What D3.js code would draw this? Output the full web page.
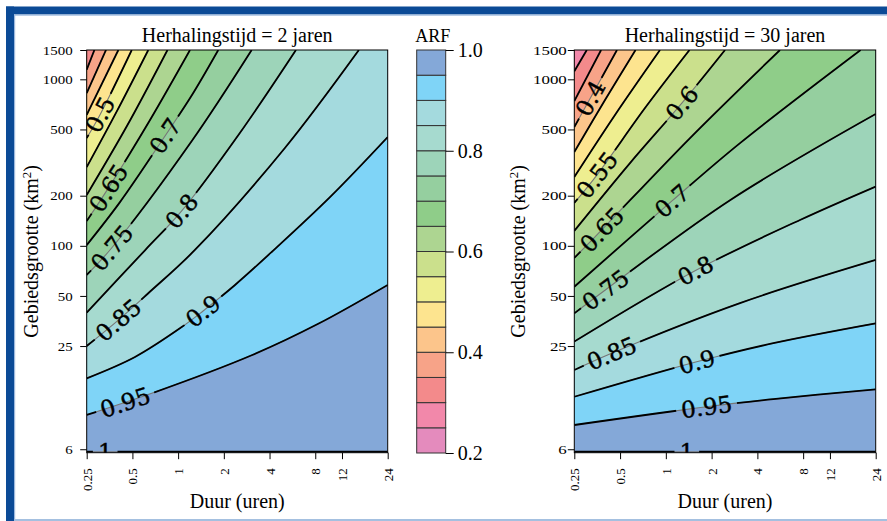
<!DOCTYPE html>
<html>
<head>
<meta charset="utf-8">
<script src="https://cdn.jsdelivr.net/npm/d3@7"></script>
<style>
body { margin: 0; background: #fff; }
svg text { font-family: "Liberation Serif", "Times New Roman", serif; }
</style>
</head>
<body>
<svg id="chart" width="887" height="521"></svg>
<script>

// ---- data ----------------------------------------------------------------
var durTicks = [0.25, 0.5, 1, 2, 4, 8, 12, 24];          // uren
var areaTicks = [6, 25, 50, 100, 200, 500, 1000, 1500];  // km2
var arfTicks = [0.2, 0.4, 0.6, 0.8, 1.0];
var arfBreaks = [0.2, 0.25, 0.3, 0.35, 0.4, 0.45, 0.5, 0.55, 0.6, 0.65, 0.7, 0.75, 0.8, 0.85, 0.9, 0.95, 1.0];
var arfColors = ["#e48bbd", "#f288aa", "#f38a8b", "#f7a388", "#fcc58b", "#fde48f", "#eeee90", "#cbe08c",
                 "#add591", "#8fcd89", "#95cf9f", "#9dd4b9", "#a6dacf", "#a4dade", "#7fd4f7", "#84a8d8"];

// contour lines as [duur, gebiedsgrootte] points, T = 2 jaar
var levelsT2 = [0.35, 0.4, 0.45, 0.5, 0.55, 0.6, 0.65, 0.7, 0.75, 0.8, 0.85, 0.9, 0.95, 1];
var contoursT2 = [
  [[0.25, 1142], [0.281, 1500]],
  [[0.25, 827], [0.335, 1500]],
  [[0.25, 611], [0.404, 1500]],
  [[0.25, 444], [0.306, 613], [0.495, 1500]],
  [[0.25, 297], [0.396, 646], [0.636, 1500]],
  [[0.25, 202], [0.46, 524], [0.851, 1500]],
  [[0.25, 141], [0.347, 222], [0.653, 570], [1.197, 1500]],
  [[0.25, 101], [0.414, 183], [0.82, 457], [1.234, 805], [1.838, 1500]],
  [[0.25, 66.8], [0.365, 97], [1.23, 426], [3.05, 1500]],
  [[0.25, 39.7], [0.605, 94], [1.056, 162], [2.55, 476], [5.97, 1500]],
  [[0.25, 25], [0.404, 35.8], [0.636, 51.9], [1.29, 94.4], [5.05, 387], [15.5, 1500]],
  [[0.25, 16.0], [0.52, 21.5], [1.056, 32.5], [1.46, 40.6], [2.37, 58.2], [4.13, 91.8], [10.0, 196], [24, 450]],
  [[0.25, 9.64], [0.67, 13.0], [3.05, 22], [8.37, 34], [24, 58.2]],
  [[0.25, 5.8], [24, 5.8]]
];
var labelLevelsT2 = [0.5, 0.65, 0.7, 0.75, 0.8, 0.85, 0.9, 0.95, 1];
var labelPosT2 = [[0.306, 613], [0.347, 222], [0.82, 457], [0.365, 97], [1.056, 162],
                  [0.404, 35.8], [1.46, 40.6], [0.447, 11.5], [0.33, 5.8]];

// T = 30 jaar
var levelsT30 = [0.3, 0.35, 0.4, 0.45, 0.5, 0.55, 0.6, 0.65, 0.7, 0.75, 0.8, 0.85, 0.9, 0.95, 1];
var contoursT30 = [
  [[0.25, 1117], [0.302, 1500]],
  [[0.25, 741], [0.375, 1500]],
  [[0.25, 517], [0.319, 772], [0.477, 1500]],
  [[0.25, 366], [0.398, 751], [0.632, 1500]],
  [[0.25, 259], [0.463, 611], [0.915, 1500]],
  [[0.25, 181], [0.353, 267], [0.729, 672], [1.431, 1500]],
  [[0.25, 123], [0.581, 314], [1.278, 721], [2.45, 1500]],
  [[0.25, 84.5], [0.38, 125], [1.442, 444], [5.63, 1500]],
  [[0.25, 56.8], [1.098, 186], [3.075, 414], [19.1, 1500]],
  [[0.25, 39.3], [0.4, 54.3], [2.643, 188], [24, 619]],
  [[0.25, 26.6], [1.567, 71.1], [7.63, 143], [24, 227]],
  [[0.25, 17.95], [0.44, 22.6], [3.075, 45.3], [24, 82.2]],
  [[0.25, 12.4], [1.596, 20.1], [5.09, 26.0], [24, 34.2]],
  [[0.25, 8.39], [1.857, 10.8], [5.09, 12.0], [24, 13.75]],
  [[0.25, 5.8], [24, 5.8]]
];
var labelLevelsT30 = [0.4, 0.55, 0.6, 0.65, 0.7, 0.75, 0.8, 0.85, 0.9, 0.95, 1];
var labelPosT30 = [[0.319, 772], [0.353, 267], [1.278, 721], [0.38, 125], [1.098, 186], [0.4, 54.3],
                   [1.567, 71.1], [0.44, 22.6], [1.596, 20.1], [1.857, 10.8], [1.37, 5.8]];
//---------------------------------------------------------------------------

var svg = d3.select("#chart");
var W = 887, H = 521;
var top0 = 50, bottom0 = 452.7;

// frame of the page
svg.append("rect").attr("x", 6).attr("y", 6.5).attr("width", W - 6).attr("height", 8).attr("fill", "#0b4a96");
svg.append("rect").attr("x", 14).attr("y", 14.5).attr("width", W - 14).attr("height", 1.2).attr("fill", "#9db9de");
svg.append("rect").attr("x", 6).attr("y", 6.5).attr("width", 8).attr("height", H - 6.5).attr("fill", "#0b4a96");
svg.append("rect").attr("x", 14).attr("y", 14.5).attr("width", 1.2).attr("height", H).attr("fill", "#9db9de");
svg.append("rect").attr("x", 14).attr("y", 519).attr("width", W - 14).attr("height", 2).attr("fill", "#a4c0e0");

function bandColor(lv) {
  return arfColors[Math.round((lv - 0.05 - 0.2) / 0.05)];
}

function drawPanel(p) {
  var x = d3.scaleLog().domain([0.25, 24]).range([p.x0, p.x1]);
  var y = d3.scaleLog().domain([5.72, 1500]).range([bottom0, top0]);

  var defs = svg.append("defs");
  defs.append("clipPath").attr("id", "clip" + p.id)
    .append("rect").attr("x", p.x0).attr("y", top0).attr("width", p.x1 - p.x0).attr("height", bottom0 - top0);

  var plot = svg.append("g").attr("clip-path", "url(#clip" + p.id + ")");
  var line = d3.line().x(d => x(d[0])).y(d => y(d[1])).curve(d3.curveCatmullRom.alpha(0.5));

  // filled bands, painted from high ARF to low ARF
  plot.append("rect").attr("x", p.x0).attr("y", top0).attr("width", p.x1 - p.x0).attr("height", bottom0 - top0)
    .attr("fill", arfColors[arfColors.length - 1]);
  var order = d3.range(p.levels.length).sort((a, b) => p.levels[b] - p.levels[a]);
  order.forEach(function(i) {
    var lv = p.levels[i];
    if (lv >= 1) return;
    var pts = p.contours[i];
    var s = pts[0], e = pts[pts.length - 1];
    var d = line(pts) + "L" + x(e[0]) + "," + (top0 - 60) + "L" + (p.x0 - 60) + "," + (top0 - 60) +
            "L" + (p.x0 - 60) + "," + y(s[1]) + "Z";
    plot.append("path").attr("d", d).attr("fill", bandColor(lv)).attr("stroke", "none");
  });

  // thin grey contour under the labels
  var grey = p.contours.map(pts => plot.append("path").attr("d", line(pts))
    .attr("fill", "none").attr("stroke", "#767676").attr("stroke-width", 1.1));

  var mask = defs.append("mask").attr("id", "mask" + p.id)
    .attr("maskUnits", "userSpaceOnUse").attr("x", 0).attr("y", 0).attr("width", W).attr("height", H);
  mask.append("rect").attr("width", W).attr("height", H).attr("fill", "white");

  var labelG = svg.append("g").attr("clip-path", "url(#clip" + p.id + ")");

  p.labelLevels.forEach(function(lv, k) {
    var node = grey[p.levels.indexOf(lv)].node();
    var L = node.getTotalLength();
    var tx = x(p.labelPos[k][0]), ty = y(p.labelPos[k][1]);
    var best = 0, bestD = Infinity;
    for (var sl = 0; sl <= L; sl += 0.5) {
      var pt = node.getPointAtLength(sl);
      var dd = (pt.x - tx) * (pt.x - tx) + (pt.y - ty) * (pt.y - ty);
      if (dd < bestD) { bestD = dd; best = sl; }
    }
    var a = node.getPointAtLength(Math.max(0, best - 4)),
        b = node.getPointAtLength(Math.min(L, best + 4)),
        c = node.getPointAtLength(best);
    var ang = Math.atan2(b.y - a.y, b.x - a.x) * 180 / Math.PI;
    if (ang > 90) ang -= 180;
    if (ang < -90) ang += 180;

    var t = labelG.append("text")
      .attr("transform", `translate(${c.x},${c.y}) rotate(${ang})`)
      .attr("text-anchor", "middle")
      .attr("dy", "0.36em")
      .style("font-family", "'DejaVu Serif', serif")
      .attr("font-size", "23px")
      .attr("fill", "#000")
      .attr("stroke", "#000").attr("stroke-width", 0.45)
      .text(String(lv));
    var w = t.node().getComputedTextLength() + 10;
    mask.append("rect")
      .attr("x", -w / 2).attr("y", -9).attr("width", w).attr("height", 18)
      .attr("transform", `translate(${c.x},${c.y}) rotate(${ang})`)
      .attr("fill", "black");
  });

  // black contour lines, broken at the labels
  var lines = plot.append("g").attr("mask", "url(#mask" + p.id + ")");
  p.contours.forEach(function(pts) {
    lines.append("path").attr("d", line(pts))
      .attr("fill", "none").attr("stroke", "#000").attr("stroke-width", 1.8);
  });

  // frame
  svg.append("rect").attr("x", p.x0).attr("y", top0).attr("width", p.x1 - p.x0).attr("height", bottom0 - top0)
    .attr("fill", "none").attr("stroke", "#000").attr("stroke-width", 1);

  // axes
  var yAxis = svg.append("g").attr("transform", `translate(${p.x0},0)`)
    .call(d3.axisLeft(y).tickValues(areaTicks).tickFormat(d => String(d)).tickSize(6.5).tickSizeOuter(0));
  yAxis.select(".domain").remove();
  yAxis.attr("font-family", "'Liberation Serif', serif").attr("font-size", 13);
  yAxis.selectAll("text")
    .attr("x", -p.yLabelGap / p.yStretch)
    .attr("transform", `scale(${p.yStretch},1)`);

  var xAxis = svg.append("g").attr("transform", `translate(0,${bottom0})`)
    .call(d3.axisBottom(x).tickValues(durTicks).tickFormat(d => String(d)).tickSize(6.5).tickSizeOuter(0));
  xAxis.select(".domain").remove();
  xAxis.attr("font-family", "'Liberation Serif', serif").attr("font-size", 13);
  xAxis.selectAll("text")
    .attr("transform", "rotate(-90)")
    .attr("text-anchor", "end")
    .attr("x", -15.5).attr("y", 0).attr("dy", "0.35em");

  // titles
  var cx = (p.x0 + p.x1) / 2;
  svg.append("text").attr("x", cx).attr("y", 41.7).attr("text-anchor", "middle")
    .attr("font-size", "20px").text(p.title);
  svg.append("text").attr("x", cx).attr("y", 508).attr("text-anchor", "middle")
    .attr("font-size", "20px").text("Duur (uren)");
  var yt = svg.append("text").attr("transform", `translate(${p.x0 - 49},${(top0 + bottom0) / 2}) rotate(-90)`)
    .attr("text-anchor", "middle").attr("font-size", "20px");
  yt.append("tspan").text("Gebiedsgrootte (km");
  yt.append("tspan").attr("font-size", "13px").attr("dy", "-7").text("2");
  yt.append("tspan").attr("dy", "7").text(")");
}

drawPanel({ id: "a", x0: 86.7, x1: 387.7, title: "Herhalingstijd = 2 jaren",
  levels: levelsT2, contours: contoursT2, labelLevels: labelLevelsT2, labelPos: labelPosT2,
  yLabelGap: 14, yStretch: 1.15 });
drawPanel({ id: "b", x0: 574.3, x1: 875.7, title: "Herhalingstijd = 30 jaren",
  levels: levelsT30, contours: contoursT30, labelLevels: labelLevelsT30, labelPos: labelPosT30,
  yLabelGap: 7.5, yStretch: 1.3 });

// colour key
var cbX0 = 416.7, cbX1 = 445.7;
var cbY = d3.scaleLinear().domain([0.2, 1.0]).range([453, top0]);
svg.append("g").selectAll("rect")
  .data(arfColors)
  .enter().append("rect")
    .attr("x", cbX0)
    .attr("y", (d, i) => cbY(arfBreaks[i + 1]))
    .attr("width", cbX1 - cbX0)
    .attr("height", (d, i) => cbY(arfBreaks[i]) - cbY(arfBreaks[i + 1]))
    .attr("fill", d => d)
    .attr("stroke", "#333").attr("stroke-width", 1);

var cbAxis = svg.append("g").attr("transform", `translate(${cbX1},0)`)
  .call(d3.axisRight(cbY).tickValues(arfTicks).tickFormat(d3.format(".1f")).tickSize(8).tickPadding(4).tickSizeOuter(0));
cbAxis.select(".domain").remove();
cbAxis.attr("font-family", "'Liberation Serif', serif").attr("font-size", 20);

svg.append("text").attr("x", (cbX0 + cbX1) / 2 + 1.5).attr("y", 42).attr("text-anchor", "middle")
  .attr("font-size", "18px").text("ARF");
</script>
</body>
</html>
